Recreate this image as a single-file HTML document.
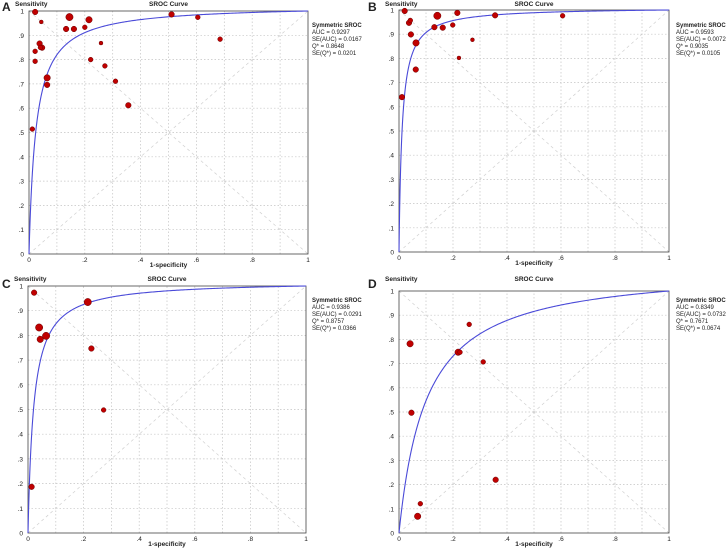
<!DOCTYPE html>
<html><head><meta charset="utf-8"><style>
html,body{margin:0;padding:0;background:#fff;}
svg{display:block;font-family:"Liberation Sans",sans-serif;}
</style></head><body>
<svg id="fig" width="728" height="549" viewBox="0 0 728 549" xmlns="http://www.w3.org/2000/svg"></svg>
<script>
const NS="http://www.w3.org/2000/svg";
const tickLabels=["0",".1",".2",".3",".4",".5",".6",".7",".8",".9","1"];
const xTickLabels=["0",".2",".4",".6",".8","1"];
const panelLetters=["A","B","C","D"];
const aucLabels=["0.9297","0.9593","0.9386","0.8349"];
const seAucLabels=["0.0167","0.0072","0.0291","0.0732"];
const qStar=[0.8648,0.9035,0.8757,0.7671];
const seQLabels=["0.0201","0.0105","0.0366","0.0674"];
// studies: [fpr, sens, size(1..3)]
const studiesA=[[0.022,0.996,2],[0.044,0.955,1],[0.145,0.975,3],[0.133,0.926,2],[0.161,0.926,2],[0.2,0.933,1.5],[0.215,0.964,2.5],[0.511,0.986,2],[0.605,0.974,1.5],[0.685,0.884,1.5],[0.022,0.834,1.5],[0.022,0.793,1.5],[0.038,0.866,2],[0.047,0.849,2],[0.041,0.85,1.5],[0.065,0.725,2.5],[0.065,0.696,2],[0.012,0.514,1.5],[0.258,0.868,1],[0.221,0.8,1.5],[0.272,0.774,1.5],[0.31,0.711,1.5],[0.356,0.612,2]];
const studiesB=[[0.021,0.996,2],[0.037,0.947,2],[0.042,0.957,1.5],[0.044,0.899,2],[0.063,0.864,2.5],[0.062,0.754,2],[0.011,0.64,2],[0.142,0.976,3],[0.131,0.929,2],[0.162,0.927,2],[0.199,0.938,1.5],[0.216,0.988,2],[0.272,0.877,1],[0.222,0.802,1],[0.356,0.978,2],[0.606,0.976,1.5]];
const studiesC=[[0.022,0.973,2],[0.04,0.832,3],[0.044,0.784,2.5],[0.065,0.798,3],[0.215,0.935,3],[0.228,0.747,2],[0.272,0.498,1.5],[0.013,0.187,2]];
const studiesD=[[0.041,0.782,2.5],[0.046,0.497,2],[0.219,0.747,2.5],[0.226,0.747,1.5],[0.26,0.862,1.5],[0.312,0.707,1.5],[0.358,0.22,2],[0.079,0.121,1.5],[0.069,0.069,2.5]];
const allStudies=[studiesA,studiesB,studiesC,studiesD];
const frames=[{x0:29,x1:308,y1:11,y0:254,ox:0,oy:0},{x0:399,x1:669,y1:10,y0:252,ox:364,oy:0},{x0:28,x1:306,y1:286,y0:533,ox:0,oy:275},{x0:399,x1:669,y1:291,y0:533,ox:364,oy:275}];
const svg=document.getElementById('fig');
function mk(tag,attrs,parent){const e=document.createElementNS(NS,tag);for(const k in attrs)e.setAttribute(k,attrs[k]);parent.appendChild(e);return e;}
function txt(parent,x,y,s,size,anchor,weight){const t=mk('text',{x:x,y:y,'font-size':size,'text-anchor':anchor||'start','font-weight':weight||'normal',fill:'#222'},parent);t.textContent=s;return t;}
frames.forEach((f,i)=>{
  const g=mk('g',{},svg);
  
  
  const sx=v=>f.x0+v*(f.x1-f.x0), sy=v=>f.y0-v*(f.y0-f.y1);
  for(let k=1;k<10;k++){
    mk('line',{x1:sx(k/10),x2:sx(k/10),y1:sy(0),y2:sy(1),stroke:'#c4c4c4','stroke-width':0.7,'stroke-dasharray':'1.5,2'},g);
    mk('line',{x1:sx(0),x2:sx(1),y1:sy(k/10),y2:sy(k/10),stroke:'#c4c4c4','stroke-width':0.7,'stroke-dasharray':'1.5,2'},g);
  }
  mk('line',{x1:sx(0),y1:sy(0),x2:sx(1),y2:sy(1),stroke:'#d0d0d0','stroke-width':0.7,'stroke-dasharray':'3,3'},g);
  mk('line',{x1:sx(0),y1:sy(1),x2:sx(1),y2:sy(0),stroke:'#d0d0d0','stroke-width':0.7,'stroke-dasharray':'3,3'},g);
  const fr=mk('rect',{x:sx(0),y:sy(1),width:sx(1)-sx(0),height:sy(0)-sy(1),fill:'none',stroke:'#444','stroke-width':0.8},g);
  
  
  tickLabels.forEach((l,k)=>{const t=txt(g,sx(0)-5,sy(k/10)+2.5,l,6.5,'end');});
  xTickLabels.forEach((l,k)=>{const t=txt(g,sx(k*0.2),sy(0)+8,l,6.5,'middle');});
  let t=txt(g,f.ox+(i%2?4:2),f.oy+(i<2?11:13),panelLetters[i],12,'start','bold');
  t=txt(g,sx(0)-14,f.oy+6,'Sensitivity',6.5,'start','bold');
  t=txt(g,(sx(0)+sx(1))/2,f.oy+6,'SROC Curve',6.5,'middle','bold');
  t=txt(g,(sx(0)+sx(1))/2,sy(0)+13,'1-specificity',6.5,'middle','bold');
  const lx=f.ox+312, ly=f.oy+27;
  const lg=mk('g',{},g);
  
  
  txt(lg,lx,ly,'Symmetric SROC',6,'start','bold');
  txt(lg,lx,ly+7,'AUC = '+aucLabels[i],6);
  txt(lg,lx,ly+14,'SE(AUC) = '+seAucLabels[i],6);
  txt(lg,lx,ly+21,'Q* = '+qStar[i].toFixed(4),6);
  txt(lg,lx,ly+28,'SE(Q*) = '+seQLabels[i],6);
  const q=qStar[i], a=2*Math.log(q/(1-q));
  let d='';
  for(let k=0;k<=400;k++){const x=Math.pow(k/400,3);if(x<=0)continue;const lo=a+Math.log(x/(1-x+1e-9));const y=1/(1+Math.exp(-lo));d+=(d?'L':'M')+sx(x).toFixed(2)+','+sy(Math.min(y,1)).toFixed(2);}
  const c=mk('path',{d:d,fill:'none',stroke:'#4a4ad8','stroke-width':1.1},g);
  
  
  allStudies[i].forEach(s=>{
    const p=mk('circle',{cx:sx(s[0]),cy:sy(s[1]),r:1.1+s[2]*0.85,fill:'#c00000',stroke:'#6a0000','stroke-width':0.5},g);
    
    
  });
});
</script>
</body></html>
